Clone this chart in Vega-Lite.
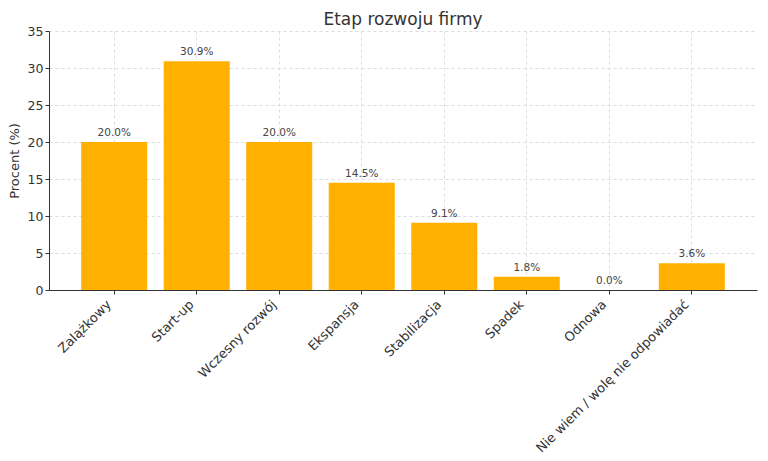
{
  "$schema": "https://vega.github.io/schema/vega-lite/v6.json",
  "width": 708,
  "height": 259,
  "autosize": {"type": "none"},
  "padding": {"left": 49, "top": 31, "right": 11, "bottom": 171},
  "background": "white",
  "title": {"text": "Etap rozwoju firmy", "fontSize": 17, "font": "DejaVu Sans", "fontWeight": "normal", "color": "#333333", "offset": -4},
  "data": {"values": [
    {"etap": "Zalążkowy", "procent": 20.0, "etykieta": "20.0%"},
    {"etap": "Start-up", "procent": 30.9, "etykieta": "30.9%"},
    {"etap": "Wczesny rozwój", "procent": 20.0, "etykieta": "20.0%"},
    {"etap": "Ekspansja", "procent": 14.5, "etykieta": "14.5%"},
    {"etap": "Stabilizacja", "procent": 9.1, "etykieta": "9.1%"},
    {"etap": "Spadek", "procent": 1.8, "etykieta": "1.8%"},
    {"etap": "Odnowa", "procent": 0.0, "etykieta": "0.0%"},
    {"etap": "Nie wiem / wolę nie odpowiadać", "procent": 3.6, "etykieta": "3.6%"}
  ]},
  "config": {
    "view": {"stroke": null},
    "font": "DejaVu Sans"
  },
  "encoding": {
    "x": {"field": "etap", "type": "nominal", "sort": null,
      "scale": {"paddingInner": 0.2, "paddingOuter": 0.39},
      "axis": {"title": null, "labelAngle": -45, "labelAlign": "right", "labelBaseline": "middle", "labelFontSize": 13, "labelColor": "#333333", "labelFont": "DejaVu Sans", "grid": true, "gridDash": [3, 3], "gridColor": "#dddddd", "bandPosition": 0.5, "domainColor": "#333333", "tickColor": "#333333", "tickSize": 4, "labelPadding": 8, "labelOffset": -5, "labelLimit": 400}},
    "y": {"field": "procent", "type": "quantitative",
      "scale": {"domain": [0, 35], "nice": false},
      "axis": {"title": "Procent (%)", "titleFontSize": 13, "titleFontWeight": "normal", "titleColor": "#333333", "titleFont": "DejaVu Sans", "values": [0, 5, 10, 15, 20, 25, 30, 35], "labelFontSize": 12.5, "labelColor": "#333333", "grid": true, "gridDash": [3, 3], "gridColor": "#dddddd", "domainColor": "#333333", "tickColor": "#333333", "tickSize": 4, "titlePadding": 6}}
  },
  "layer": [
    {"mark": {"type": "bar", "color": "#FFB000"}},
    {"mark": {"type": "text", "dy": -9, "fontSize": 10.5, "color": "#444444", "font": "DejaVu Sans"},
     "encoding": {"text": {"field": "etykieta", "type": "nominal"}}}
  ]
}
